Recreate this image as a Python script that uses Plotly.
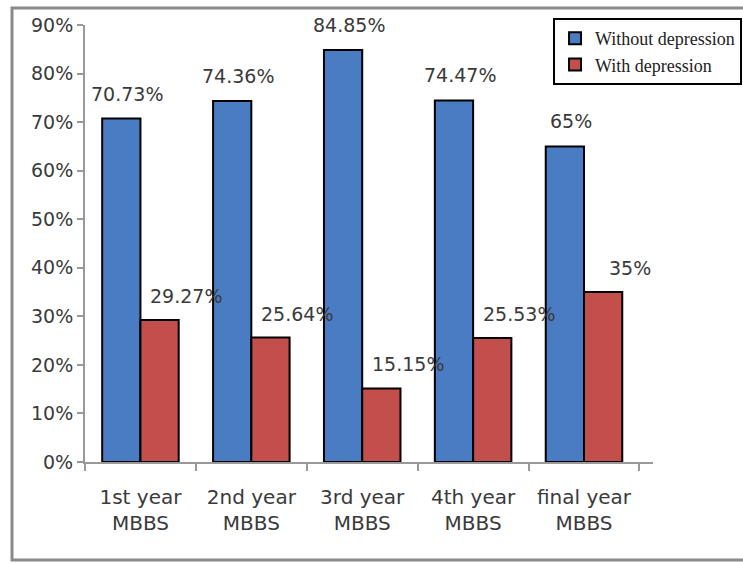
import plotly.graph_objects as go

categories = ["1st year<br>MBBS", "2nd year<br>MBBS", "3rd year<br>MBBS", "4th year<br>MBBS", "final year<br>MBBS"]
without_dep = [70.73, 74.36, 84.85, 74.47, 65]
with_dep = [29.27, 25.64, 15.15, 25.53, 35]
without_labels = ["70.73%", "74.36%", "84.85%", "74.47%", "65%"]
with_labels = ["29.27%", "25.64%", "15.15%", "25.53%", "35%"]

BLUE = "#4a7cc3"
RED = "#c24f4c"
TXT = "#3a3a3a"
FONT = "DejaVu Sans"

fig = go.Figure()
fig.add_trace(go.Bar(x=categories, y=without_dep, name="Without depression",
                     marker=dict(color=BLUE, line=dict(color="black", width=2))))
fig.add_trace(go.Bar(x=categories, y=with_dep, name="With depression",
                     marker=dict(color=RED, line=dict(color="black", width=2))))

annotations = []
for c, v, t in zip(categories, without_dep, without_labels):
    annotations.append(dict(x=c, y=v, text=t, showarrow=False, xref="x", yref="y",
                            xshift=-13, yshift=25, font=dict(family=FONT, size=19, color=TXT)))
for c, v, t in zip(categories, with_dep, with_labels):
    annotations.append(dict(x=c, y=v, text=t, showarrow=False, xref="x", yref="y",
                            xshift=46, yshift=24, font=dict(family=FONT, size=19, color=TXT)))

fig.update_layout(
    width=743, height=563,
    margin=dict(l=85, r=90, t=25, b=101, autoexpand=False),
    paper_bgcolor="white", plot_bgcolor="white",
    barmode="group", bargap=0.31, bargroupgap=0,
    font=dict(family=FONT, size=19, color=TXT),
    annotations=annotations,
    legend=dict(x=0.824, y=1.016, xanchor="left", yanchor="top",
                bgcolor="white", bordercolor="black", borderwidth=2,
                font=dict(family="Liberation Serif", size=18, color="#222"),
                tracegroupgap=0, itemwidth=30),
    xaxis=dict(showline=True, linecolor="#999999", linewidth=2,
               ticks="outside", tickson="boundaries", ticklen=7, tickwidth=2, tickcolor="#999999",
               ticklabelstandoff=16,
               tickfont=dict(family=FONT, size=20, color=TXT), showgrid=False),
    yaxis=dict(range=[0, 90], dtick=10, ticksuffix="%", showline=True, linecolor="#999999",
               linewidth=2, ticks="outside", ticklen=6, tickwidth=2, tickcolor="#999999",
               tickfont=dict(family=FONT, size=19, color=TXT), showgrid=False, zeroline=False),
    shapes=[dict(type="rect", xref="paper", yref="paper", x0=-0.1285, x1=1.3, y0=-0.224, y1=1.039,
                 line=dict(color="#8a8a8a", width=3), fillcolor="rgba(0,0,0,0)", layer="below")],
)

fig.write_html("out.html")
